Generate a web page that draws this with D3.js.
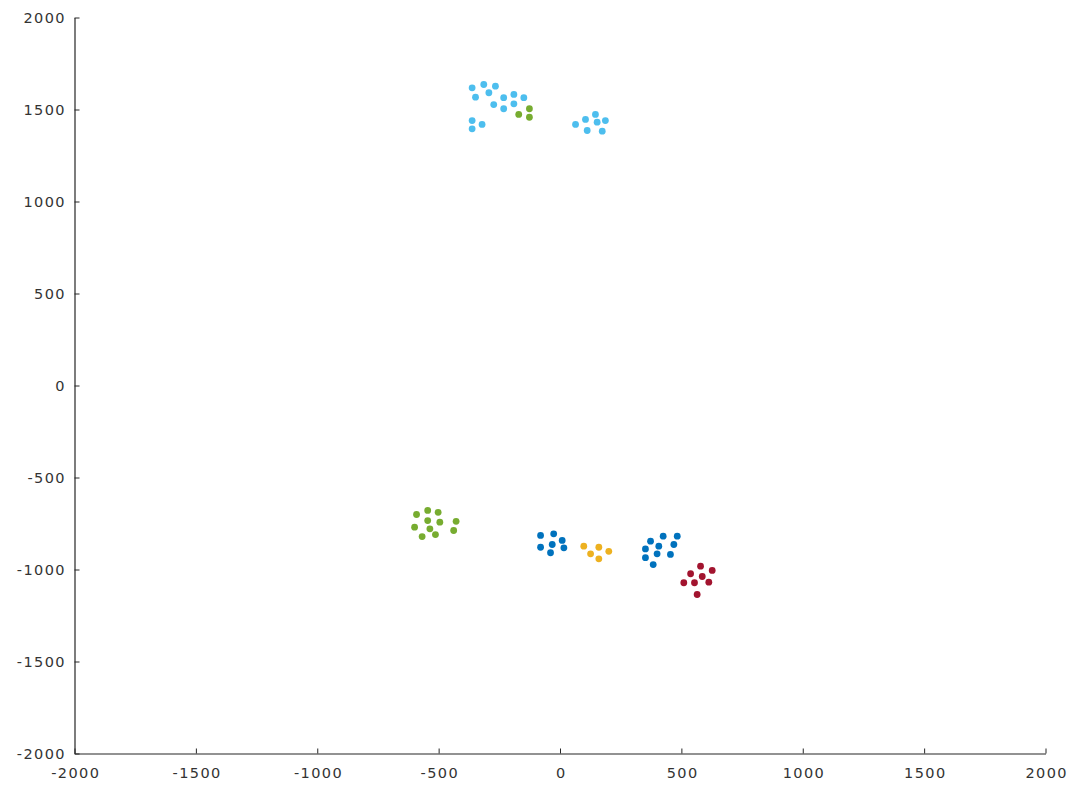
<!DOCTYPE html>
<html>
<head>
<meta charset="utf-8">
<script src="https://cdn.jsdelivr.net/npm/d3@7"></script>
<style>
  body { margin: 0; background: #fff; }
  .tick text { font-family: "DejaVu Sans", sans-serif; font-size: 14.5px; letter-spacing: 1.4px; fill: #333; }
</style>
</head>
<body>
<svg id="chart" width="1073" height="790"></svg>
<script>
"use strict";

// cluster points: [x, y]
const lightBlue = [
    [-362, 1618], [-314, 1636], [-266, 1627], [-348, 1567], [-293, 1591],
    [-232, 1564], [-190, 1582], [-149, 1564], [-273, 1527], [-232, 1504],
    [-190, 1531], [-362, 1440], [-362, 1395], [-321, 1419],
    [64, 1419], [105, 1446], [146, 1473], [153, 1431], [187, 1440],
    [112, 1386], [174, 1382]
];
const green = [
    [-170, 1473], [-126, 1504], [-126, 1458],
    [-591, -701], [-545, -679], [-502, -689], [-545, -734], [-495, -743],
    [-599, -770], [-536, -779], [-568, -821], [-513, -810], [-428, -738],
    [-438, -788]
];
const blue = [
    [-80, -815], [-26, -806], [9, -842], [-80, -879], [-32, -864],
    [16, -882], [-39, -909],
    [425, -819], [483, -819], [373, -846], [407, -873], [469, -864],
    [352, -888], [400, -915], [455, -918], [352, -936], [384, -973]
];
const yellow = [[98, -873], [160, -879], [201, -901], [126, -915], [160, -942]];
const red = [
    [579, -982], [627, -1005], [538, -1023], [586, -1038], [510, -1072],
    [554, -1072], [613, -1069], [565, -1136]
];
const series = [
    { pts: lightBlue, color: "#4DBEEE" },
    { pts: green, color: "#77AC30" },
    { pts: blue, color: "#0072BD" },
    { pts: yellow, color: "#EDB120" },
    { pts: red, color: "#A2142F" }
];
const xTicks = [-2000, -1500, -1000, -500, 0, 500, 1000, 1500, 2000];
const yTicks = [-2000, -1500, -1000, -500, 0, 500, 1000, 1500, 2000];

const svg = d3.select("#chart");
const x = d3.scaleLinear().domain([-2000, 2000]).range([74.5, 1045.5]);
const y = d3.scaleLinear().domain([-2000, 2000]).range([753.5, 17.5]);
const fmt = (v) => String(v); // plain hyphen, no thousands separator

// axes, ticks pointing inward like the original
const xAxis = svg.append("g")
    .attr("transform", `translate(0,${y(-2000)})`)
    .call(d3.axisBottom(x).tickValues(xTicks).tickFormat(fmt)
        .tickSizeInner(-5).tickSizeOuter(0).tickPadding(14));
const yAxis = svg.append("g")
    .attr("transform", `translate(${x(-2000)},0)`)
    .call(d3.axisLeft(y).tickValues(yTicks).tickFormat(fmt)
        .tickSizeInner(-5).tickSizeOuter(0).tickPadding(10));
[xAxis, yAxis].forEach((a) => {
    a.select(".domain").attr("stroke", "#262626").attr("stroke-width", 1.2);
    a.selectAll(".tick line").attr("stroke", "#262626");
});
// letter-spacing leaves a trailing gap; nudge labels back
xAxis.selectAll(".tick text").attr("dx", "0.7px");
yAxis.selectAll(".tick text").attr("dx", "1.4px");

series.forEach((s) => {
    svg.append("g")
        .selectAll("circle")
        .data(s.pts)
        .enter()
        .append("circle")
        .attr("cx", (d) => x(d[0]))
        .attr("cy", (d) => y(d[1]))
        .attr("r", 3.4)
        .attr("fill", s.color);
});
</script>
</body>
</html>
